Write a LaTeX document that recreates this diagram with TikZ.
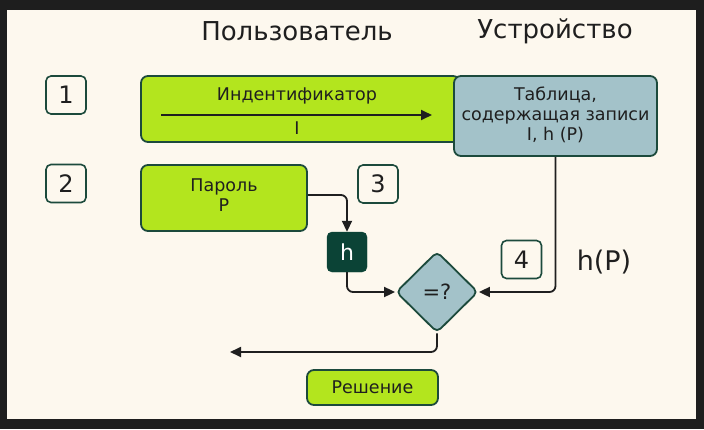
\documentclass[tikz,border=0pt]{standalone}
\usepackage{fontspec}
\setmainfont{DejaVu Sans}
\usetikzlibrary{arrows.meta,shapes.geometric,calc}
\definecolor{frame}{HTML}{1E1E1E}
\definecolor{cream}{HTML}{FDF8EE}
\definecolor{lime}{HTML}{B3E51E}
\definecolor{dgreen}{HTML}{1C4A3C}
\definecolor{bluegray}{HTML}{A3C2C9}
\definecolor{hfill}{HTML}{0B4336}
\definecolor{ink}{HTML}{1F1F1F}
\tikzset{
  numbox/.style={draw=dgreen,line width=1.6pt,fill=cream,rounded corners=5pt,minimum width=40pt,minimum height=38pt,inner sep=0pt,font=\fontsize{24}{28}\selectfont,text=ink},
  limebox/.style={draw=dgreen,line width=1.8pt,fill=lime,rounded corners=7pt,inner sep=0pt},
  tablebox/.style={draw=dgreen,line width=1.8pt,fill=bluegray,rounded corners=7pt,inner sep=0pt},
  lbl/.style={font=\fontsize{17.5}{20}\selectfont,text=ink,align=center,inner sep=0pt},
  hdr/.style={font=\fontsize{26}{30}\selectfont,text=ink,inner sep=0pt},
  conn/.style={draw=ink,line width=1.8pt,rounded corners=6pt,-{Triangle[length=11pt,width=10pt]}},
}
\begin{document}
\begin{tikzpicture}[x=1pt,y=-1pt]
\useasboundingbox (0,0) rectangle (704,429);
\fill[frame] (0,0) rectangle (704,429);
\fill[cream] (7,10) rectangle (696,419);
% headers
\node[hdr] (hu) at (297,31) {Пользователь};
\node[hdr] (hd) at (555,31) {Устройство};
% step numbers
\node[numbox] (n1) at (66,95) {1};
\node[numbox] (n2) at (66,183.5) {2};
\node[numbox] (n3) at (378,184) {3};
\node[numbox] (n4) at (521.5,259.5) {4};
% identifier box
\node[limebox,minimum width=319pt,minimum height=66pt] (idb) at (300.5,109) {};
\node[lbl] (idt) at (297,96) {Индентификатор};
\node[lbl] (idi) at (297,128) {I};
\coordinate (ia) at (161,115);
\coordinate (ib) at (432,115);
\draw[conn] (ia) -- (ib);
% table
\node[tablebox,minimum width=203pt,minimum height=80pt] (tb) at (555.5,116) {};
\node[lbl] (tbt) at (555.5,115) {Таблица,\\содержащая записи\\I, h (P)};
% password
\node[limebox,minimum width=166pt,minimum height=66pt] (pw) at (224,198) {};
\node[lbl] (pwt) at (224,195) {Пароль\\P};
% h
\node[draw=hfill,fill=hfill,rounded corners=5pt,minimum width=40pt,minimum height=40pt,inner sep=0pt,text=white,font=\fontsize{22}{24}\selectfont] (h) at (347,252) {h};
% diamond
\node[diamond,draw=dgreen,line width=1.8pt,fill=bluegray,rounded corners=5pt,minimum width=82pt,minimum height=81pt,inner sep=0pt,font=\fontsize{21}{24}\selectfont,text=ink] (dia) at (437,292) {=?};
% h(P)
\node[hdr,font=\fontsize{27}{30}\selectfont] (hp) at (604,262) {h(P)};
% decision
\node[limebox,minimum width=131pt,minimum height=35pt,font=\fontsize{17.5}{20}\selectfont,text=ink] (res) at (372.5,387.5) {Решение};
\coordinate (out) at (230,352);
% connectors
\draw[conn] ($(pw.east)+(0,-3)$) -| (h.north);
\draw[conn] (h.south) |- (dia.west);
\draw[conn] (tb.south) |- (dia.east);
\draw[conn] (dia.south) |- (out);
\end{tikzpicture}
\end{document}
